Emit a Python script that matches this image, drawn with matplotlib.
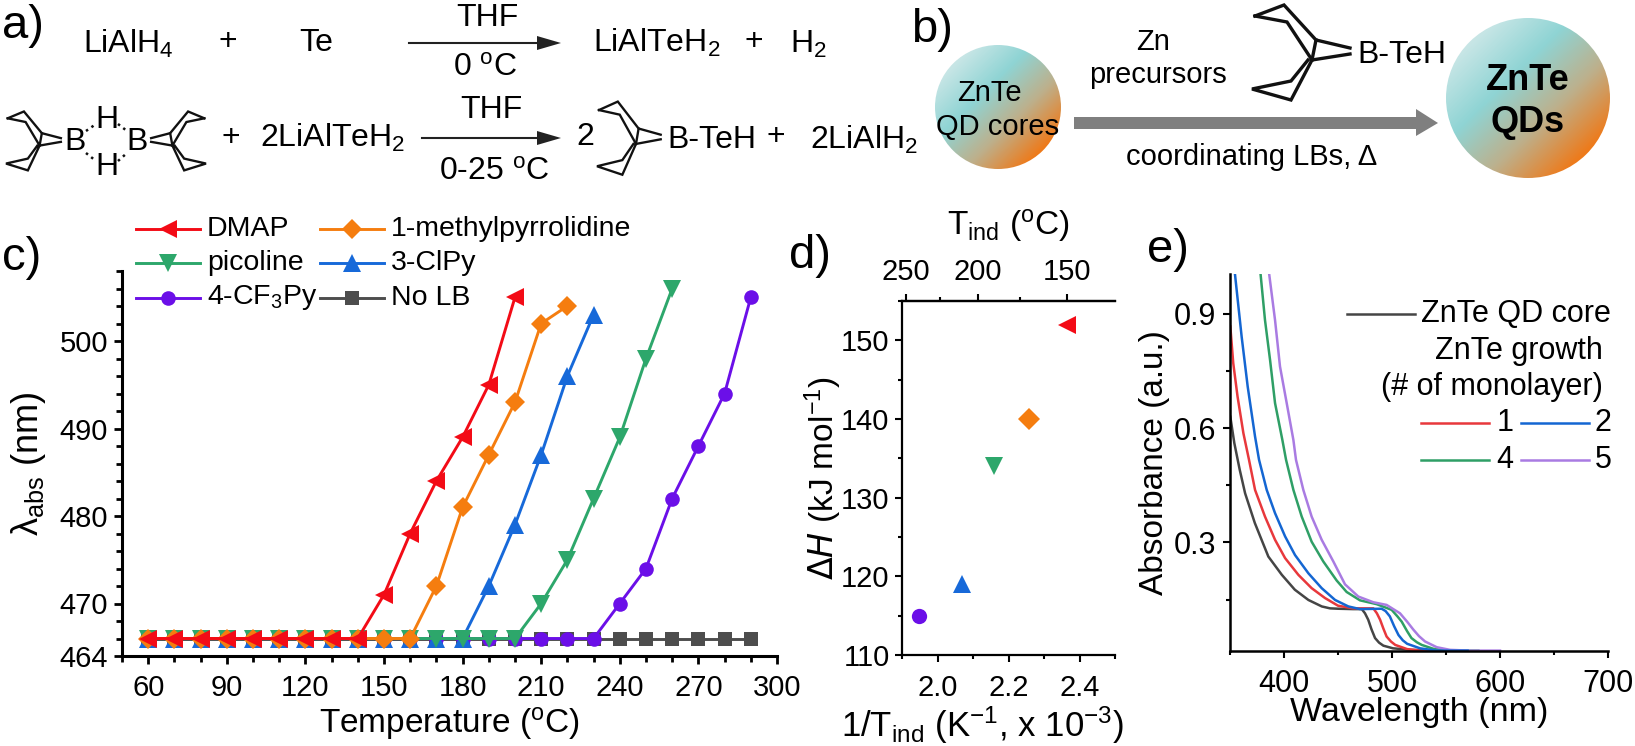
import numpy as np
import matplotlib
matplotlib.use("Agg")
import matplotlib.pyplot as plt
from matplotlib.colors import LinearSegmentedColormap
from matplotlib.patches import Ellipse, Polygon
from matplotlib.ticker import MultipleLocator

plt.rcParams['font.family'] = ['Liberation Sans', 'DejaVu Sans']
plt.rcParams['mathtext.default'] = 'regular'

W, H = 1635, 746

# panel c
temp_dmap = [60, 70, 80, 90, 100, 110, 120, 130, 140, 150, 160, 170, 180, 190, 200]
abs_dmap = [466, 466, 466, 466, 466, 466, 466, 466, 466, 471, 478, 484, 489, 495, 505]
temp_methyl = [60, 70, 80, 90, 100, 110, 120, 130, 140, 150, 160, 170, 180, 190, 200, 210, 220]
abs_methyl = [466, 466, 466, 466, 466, 466, 466, 466, 466, 466, 466, 472, 481, 487, 493, 502, 504]
temp_clpy = [60, 70, 80, 90, 100, 110, 120, 130, 140, 150, 160, 170, 180, 190, 200, 210, 220, 230]
abs_clpy = [466, 466, 466, 466, 466, 466, 466, 466, 466, 466, 466, 466, 466, 472, 479, 487, 496, 503]
temp_pic = [60, 70, 80, 90, 100, 110, 120, 130, 140, 150, 160, 170, 180, 190, 200, 210, 220, 230, 240, 250, 260]
abs_pic = [466, 466, 466, 466, 466, 466, 466, 466, 466, 466, 466, 466, 466, 466, 466, 470, 475, 482, 489, 498, 506]
temp_cf3 = [60, 70, 80, 90, 100, 110, 120, 130, 140, 150, 160, 170, 180, 190, 200, 210, 220, 230, 240, 250, 260, 270, 280, 290]
abs_cf3 = [466, 466, 466, 466, 466, 466, 466, 466, 466, 466, 466, 466, 466, 466, 466, 466, 466, 466, 470, 474, 482, 488, 494, 505]
temp_nolb = [60, 70, 80, 90, 100, 110, 120, 130, 140, 150, 160, 170, 180, 190, 200, 210, 220, 230, 240, 250, 260, 270, 280, 290]
abs_nolb = [466, 466, 466, 466, 466, 466, 466, 466, 466, 466, 466, 466, 466, 466, 466, 466, 466, 466, 466, 466, 466, 466, 466, 466]

# panel d
inv_t = [1.949, 2.07, 2.158, 2.257, 2.365]
delta_h = [115, 119, 134, 140, 152]

# panel e
wl_core = [350.3, 354, 359, 364, 373, 385.5, 398, 410, 422.6, 435, 442.6, 450, 464, 472, 475, 478, 481, 484.3, 488, 492, 501, 517, 560]
ab_core = [0.63, 0.561, 0.491, 0.429, 0.351, 0.263, 0.215, 0.176, 0.149, 0.132, 0.127, 0.126, 0.125, 0.125, 0.114, 0.097, 0.072, 0.049, 0.037, 0.029, 0.022, 0.018, 0.016]
wl_1 = [350.3, 353, 357, 362.4, 367.6, 373.2, 382.4, 391.7, 401, 413.3, 425.6, 438, 450, 464, 482.7, 486, 489, 492, 495, 499, 503, 514, 526, 560]
ab_1 = [0.867, 0.771, 0.683, 0.587, 0.517, 0.438, 0.368, 0.307, 0.259, 0.215, 0.18, 0.154, 0.134, 0.127, 0.127, 0.114, 0.097, 0.074, 0.053, 0.04, 0.031, 0.02, 0.016, 0.016]
wl_2 = [354.7, 360.8, 366.4, 373.2, 376.9, 384, 391.7, 401, 410.2, 422.6, 434.9, 447.3, 459.6, 470.4, 490.4, 494, 498, 502, 506, 510, 514, 526, 541, 570]
ab_2 = [1.002, 0.84, 0.709, 0.578, 0.517, 0.438, 0.377, 0.316, 0.267, 0.219, 0.18, 0.149, 0.132, 0.125, 0.126, 0.12, 0.106, 0.08, 0.057, 0.043, 0.034, 0.022, 0.016, 0.016]
wl_4 = [378.4, 382.4, 387.1, 391.7, 398.5, 401.9, 408.7, 416.4, 425.6, 436.4, 448.8, 458, 470.4, 485.8, 499.7, 505, 509, 514, 518, 523, 527.5, 538, 551, 580]
ab_4 = [1.002, 0.884, 0.779, 0.666, 0.569, 0.517, 0.438, 0.368, 0.302, 0.25, 0.2, 0.17, 0.148, 0.138, 0.123, 0.106, 0.092, 0.067, 0.049, 0.038, 0.031, 0.021, 0.016, 0.016]
wl_5 = [386.4, 391.7, 396.3, 402.5, 408.7, 411.1, 417.9, 425.6, 434.9, 445.7, 456.5, 468.8, 482.7, 495, 507.4, 514, 519.8, 525, 530.6, 541.4, 553.7, 572, 600]
ab_5 = [1.002, 0.884, 0.762, 0.666, 0.569, 0.517, 0.438, 0.368, 0.307, 0.25, 0.19, 0.158, 0.143, 0.136, 0.114, 0.092, 0.071, 0.054, 0.04, 0.025, 0.018, 0.016, 0.016]

RED, ORANGE, GREEN, BLUE, PURPLE, GREY = '#f30b16', '#f57d0f', '#2da76b', '#1769d9', '#6b0fe8', '#4d4d4d'


def axes_px(left, top, right, bottom):
    return fig.add_axes([left / W, 1 - bottom / H, (right - left) / W, (bottom - top) / H])


fig = plt.figure(figsize=(W / 100, H / 100), dpi=100)

# ---- panel c
ax_c = axes_px(122, 271, 777, 656)
series_c = [
    (temp_nolb, abs_nolb, GREY, 's', 9.5),
    (temp_cf3, abs_cf3, PURPLE, 'o', 10.5),
    (temp_clpy, abs_clpy, BLUE, '^', 12.5),
    (temp_pic, abs_pic, GREEN, 'v', 12.5),
    (temp_methyl, abs_methyl, ORANGE, 'D', 10.5),
    (temp_dmap, abs_dmap, RED, '<', 13),
]
for xs, ys, col, mk, ms in series_c:
    ax_c.plot(xs, ys, color=col, marker=mk, ms=ms, mew=0, lw=2.1, clip_on=False)
ax_c.set_xlim(50, 300)
ax_c.set_ylim(464, 508)
ax_c.set_xticks([60, 90, 120, 150, 180, 210, 240, 270, 300])
ax_c.xaxis.set_minor_locator(MultipleLocator(10))
ax_c.set_yticks([464, 470, 480, 490, 500])
ax_c.yaxis.set_minor_locator(MultipleLocator(2))
ax_c.tick_params(which='major', length=6, width=2, labelsize=21, pad=4)
ax_c.tick_params(which='minor', length=4, width=2)
ax_c.tick_params(axis='x', which='major', pad=7)
for s in ['top', 'right']:
    ax_c.spines[s].set_visible(False)
for s in ['left', 'bottom']:
    ax_c.spines[s].set_linewidth(2.2)

# ---- panel d
ax_d = axes_px(902, 301, 1115, 655)
markers_d = ['o', '^', 'v', 'D', '<']
colors_d = [PURPLE, BLUE, GREEN, ORANGE, RED]
sizes_d = [11, 13, 13, 11, 13]
for x, y, mk, col, ms in zip(inv_t, delta_h, markers_d, colors_d, sizes_d):
    ax_d.plot([x], [y], marker=mk, color=col, ms=ms, mew=0, ls='none')
ax_d.set_xlim(1.9, 2.5)
ax_d.set_ylim(110, 155)
ax_d.set_xticks([2.0, 2.2, 2.4])
ax_d.set_xticklabels(['2.0', '2.2', '2.4'])
ax_d.xaxis.set_minor_locator(MultipleLocator(0.1))
ax_d.set_yticks([110, 120, 130, 140, 150])
ax_d.yaxis.set_minor_locator(MultipleLocator(5))
ax_d.tick_params(which='major', length=5, width=1.5, labelsize=21, pad=4)
ax_d.tick_params(which='minor', length=3, width=1.5)
ax_d.tick_params(axis='x', which='major', pad=9)
ax_d.spines['right'].set_visible(False)
for s in ['left', 'bottom', 'top']:
    ax_d.spines[s].set_linewidth(1.6)
top_d = ax_d.secondary_xaxis('top', functions=(lambda x: 1000 / np.maximum(x, 0.01) - 273,
                                               lambda t: 1000 / (np.maximum(t, -272) + 273)))
top_d.set_xticks([250, 200, 150])
top_d.set_xticks([225, 175], minor=True)
top_d.tick_params(which='major', length=5, width=1.5, labelsize=21, pad=6)
top_d.tick_params(which='minor', length=3, width=1.5)
top_d.spines['top'].set_linewidth(1.6)

# ---- panel e
ax_e = axes_px(1230, 274, 1608, 651)
for xs, ys, col in [(wl_core, ab_core, '#454545'), (wl_1, ab_1, '#e8383c'), (wl_4, ab_4, '#2f9f66'),
                    (wl_5, ab_5, '#a97be2'), (wl_2, ab_2, '#1466d2')]:
    ax_e.plot(xs, ys, color=col, lw=1.8)
ax_e.set_xlim(350, 700)
ax_e.set_ylim(0.015, 1.005)
ax_e.set_xticks([400, 500, 600, 700])
ax_e.xaxis.set_minor_locator(MultipleLocator(50))
ax_e.set_yticks([0.3, 0.6, 0.9])
ax_e.set_yticks([0.15, 0.45, 0.75], minor=True)
ax_e.tick_params(which='major', length=5, width=1.5, labelsize=22, pad=5)
ax_e.tick_params(which='minor', length=3, width=1.5)
ax_e.tick_params(axis='x', which='major', pad=8)
for s in ['top', 'right']:
    ax_e.spines[s].set_visible(False)
for s in ['left', 'bottom']:
    ax_e.spines[s].set_linewidth(1.8)

# overlay in pixel coordinates for the schemes, legends and labels
ov = fig.add_axes([0, 0, 1, 1], zorder=10)
ov.set_xlim(0, W)
ov.set_ylim(H, 0)
ov.axis('off')
ov.patch.set_alpha(0)


def label(x, y, s, size=21, ha='center', **kw):
    ov.text(x, y, s, fontsize=size, ha=ha, va='center', **kw)


for ax, axis, txt, x, y, size in [
    (ax_c, 'x', 'Temperature ($^{o}$C)', 449, 723, 24),
    (ax_c, 'y', '$\\lambda_{abs}$ (nm)', 28, 464, 26),
    (ax_d, 'x', '1/T$_{ind}$ (K$^{-1}$, x 10$^{-3}$)', 982, 725, 25),
    (ax_d, 'y', '$\\mathit{\\Delta H}$ (kJ mol$^{-1}$)', 823, 478, 24),
    (ax_e, 'x', 'Wavelength (nm)', 1419, 712, 24.5),
    (ax_e, 'y', 'Absorbance (a.u.)', 1154, 463, 24),
]:
    if axis == 'x':
        ax.set_xlabel(txt, fontsize=size, va='center', ha='center')
        ax.xaxis.set_label_coords(x, y, transform=ov.transData)
    else:
        ax.set_ylabel(txt, fontsize=size, va='center', ha='center')
        ax.yaxis.set_label_coords(x, y, transform=ov.transData)
label(1008, 225, 'T$_{ind}$ ($^{o}$C)', size=24)

for x, y, s in [(23, 26, 'a)'), (932, 30, 'b)'), (22, 258, 'c)'), (810, 256, 'd)'), (1168, 250, 'e)')]:
    label(x, y, s, size=34)

# legend of panel c
legend_c = [(136, 229, RED, '<', 13, 'DMAP'), (320, 229, ORANGE, 'D', 10.5, '1-methylpyrrolidine'),
            (136, 263, GREEN, 'v', 12.5, 'picoline'), (320, 263, BLUE, '^', 12.5, '3-ClPy'),
            (136, 298, PURPLE, 'o', 10.5, '4-CF$_3$Py'), (320, 298, GREY, 's', 9.5, 'No LB')]
for x, y, col, mk, ms, name in legend_c:
    ov.plot([x, x + 32, x + 64], [y, y, y], color=col, lw=2.1, marker=mk, ms=ms, mew=0, markevery=[1])
    label(x + 71, y, name, size=20.5, ha='left')

# legend of panel e
ov.plot([1347, 1415], [314, 314], color='#454545', lw=1.8)
label(1611, 314, 'ZnTe QD core', size=22, ha='right')
label(1603, 351, 'ZnTe growth', size=22, ha='right')
label(1603, 387, '(# of monolayer)', size=22, ha='right')
for x0, x1, y, col, tx, s in [(1421, 1489, 423, '#e8383c', 1505, '1'), (1521, 1589, 423, '#1466d2', 1603, '2'),
                              (1421, 1489, 460, '#2f9f66', 1505, '4'), (1521, 1589, 460, '#a97be2', 1603, '5')]:
    ov.plot([x0, x1], [y, y], color=col, lw=1.8)
    label(tx, y, s, size=22)


def arrow(x0, x1, y):
    ov.plot([x0, x1 - 20], [y, y], color='#222222', lw=1.5)
    ov.add_patch(Polygon([[x1 - 24, y - 7], [x1, y], [x1 - 24, y + 7]], closed=True, color='#222222', lw=0))


def bbn(bx, by, sx=1.0, sy=1.0, flip=1):
    # bicyclic borane skeleton, offsets measured from the boron atom
    path1 = [(-97, -35), (-68, -46), (-36, -11), (-2, -3)]
    path2 = [(-97, -35), (-65, -29), (-40, 9), (-2, 3)]
    path3 = [(-40, 9), (-61, 49), (-100, 38), (-61, 30), (-44, 9)]
    path4 = [(-36, -11), (-40, 9)]
    for path in [path1, path2, path3, path4]:
        xs = [bx + flip * p[0] * sx for p in path]
        ys = [by + p[1] * sy for p in path]
        ov.plot(xs, ys, color='#111111', lw=2.4 * max(sx, 0.7), solid_joinstyle='miter')


# scheme a
SZ = 23
label(128, 44, 'LiAlH$_4$', size=SZ)
label(228, 42, '+', size=SZ)
label(316, 43, 'Te', size=SZ)
arrow(409, 561, 43)
label(487, 18, 'THF', size=SZ)
label(485, 68, '0 $^{o}$C', size=SZ)
label(657, 43, 'LiAlTeH$_2$', size=SZ)
label(754, 42, '+', size=SZ)
label(808, 44, 'H$_2$', size=SZ)
bbn(62, 140, 0.56, 0.62)
label(75, 142, 'B', size=SZ)
label(137, 142, 'B', size=SZ)
bbn(150, 140, 0.56, 0.62, flip=-1)
label(107, 120, 'H', size=SZ)
label(107, 167, 'H', size=SZ)
for x0, y0, x1, y1 in [(86, 131, 96, 124), (118, 124, 127, 131), (86, 153, 96, 161), (118, 161, 127, 153)]:
    ov.plot([x0, x1], [y0, y1], color='#111111', lw=1.8, ls=':')
label(231, 138, '+', size=SZ)
label(333, 138, '2LiAlTeH$_2$', size=SZ)
arrow(422, 561, 138)
label(491, 110, 'THF', size=SZ)
label(494, 172, '0-25 $^{o}$C', size=SZ)
label(585, 137, '2', size=SZ)
bbn(662, 137, 0.65, 0.77)
label(712, 140, 'B-TeH', size=SZ)
label(776, 137, '+', size=SZ)
label(864, 140, '2LiAlH$_2$', size=SZ)

# scheme b
cmap_qd = LinearSegmentedColormap.from_list('qd', ['#c8e6e6', '#8fd4d4', '#bdb08c', '#ee7a1a'], N=256)
gx, gy = np.meshgrid(np.linspace(0, 1, 200), np.linspace(0, 1, 200))
grad = np.clip(((gx + gy) / 2 - 0.15) / 0.7, 0, 1)
for cx, cy, rx, ry in [(998, 107, 63, 62), (1528, 98, 82, 80)]:
    im = ov.imshow(grad, extent=[cx - rx, cx + rx, cy + ry, cy - ry], cmap=cmap_qd, vmin=0, vmax=1,
                   aspect='auto', zorder=1)
    clip = Ellipse((cx, cy), 2 * rx, 2 * ry, transform=ov.transData, fc='none', ec='none')
    ov.add_patch(clip)
    im.set_clip_path(clip)
ov.set_xlim(0, W)
ov.set_ylim(H, 0)
label(989, 93, 'ZnTe', zorder=3)
label(998, 127, 'QD cores', zorder=3)
label(1528, 80, 'ZnTe', size=26, fontweight='bold', zorder=3)
label(1528, 122, 'QDs', size=26, fontweight='bold', zorder=3)
ov.add_patch(Polygon([[1074, 117], [1416, 117], [1416, 109], [1438, 123], [1416, 136], [1416, 129], [1074, 129]],
                     closed=True, color='#7f7f7f', lw=0, zorder=2))
label(1153, 42, 'Zn')
label(1158, 75, 'precursors')
label(1252, 157, 'coordinating LBs, Δ')
bbn(1352, 51)
label(1402, 55, 'B-TeH', size=23)

fig.savefig('out.png', dpi=100)
